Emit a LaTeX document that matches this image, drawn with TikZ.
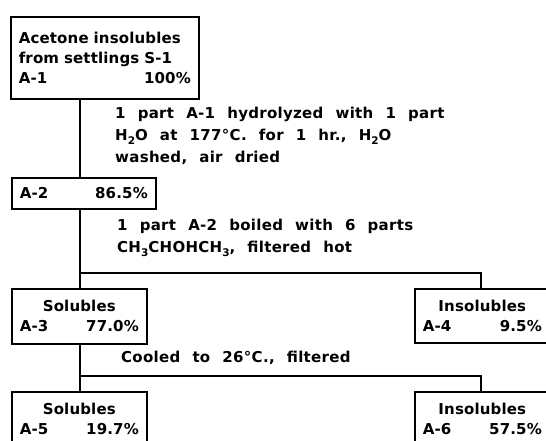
\documentclass[tikz,border=0pt]{standalone}
\usepackage{fontspec}
\setmainfont{DejaVu Sans}[LetterSpace=1,WordSpace=1.8]
\newfontfamily\notefont{DejaVu Sans}[LetterSpace=2,WordSpace=2.2]
\usetikzlibrary{positioning}
\newcommand\chemsub[1]{\raisebox{-0.5ex}{\fontsize{10.5}{10}\selectfont #1}}

\begin{document}
\begin{tikzpicture}[x=1pt, y=-1pt,
  box/.style={draw, line width=1.6pt, anchor=north west, inner xsep=8pt, inner ysep=0pt, align=center, font=\fontsize{15}{20}\selectfont\bfseries},
  note/.style={anchor=north west, inner sep=0pt, align=left, font=\notefont\fontsize{15}{22}\selectfont\bfseries},
  link/.style={line width=1.5pt}
]
  \useasboundingbox (0,0) rectangle (546,440);

  % Starting material
  \node[box, align=left, text width=172pt, minimum height=82pt] (a1) at (10,16) {
    Acetone insolubles\\
    from settlings S-1\\
    A-1\hfill 100\%
  };

  % Hydrolysis
  \node[note] (hydro) at (115,106.6) {
    1 part A-1 hydrolyzed with 1 part\\
    H\chemsub{2}O at 177°C. for 1 hr., H\chemsub{2}O\\
    washed, air dried
  };
  \node[box, text width=128pt, minimum height=31pt] (a2) at (11,177) {A-2\hfill 86.5\%};

  % Hot extraction
  \node[note] (boil) at (117,218.6) {
    1 part A-2 boiled with 6 parts\\
    CH\chemsub{3}CHOHCH\chemsub{3}, filtered hot
  };
  \coordinate (split1) at (80,273);
  \coordinate (split1r) at (481,273);
  \node[box, text width=119pt, minimum height=55pt] (a3) at (11,288) {Solubles\\A-3\hfill 77.0\%};
  \node[box, text width=119pt, minimum height=54pt] (a4) at (414,288) {Insolubles\\A-4\hfill 9.5\%};

  % Cooling
  \node[note] (cool) at (121,350.6) {Cooled to 26°C., filtered};
  \coordinate (split2) at (80,376);
  \coordinate (split2r) at (481,376);
  \node[box, text width=119pt, minimum height=55pt] (a5) at (11,391) {Solubles\\A-5\hfill 19.7\%};
  \node[box, text width=119pt, minimum height=55pt] (a6) at (414,391) {Insolubles\\A-6\hfill 57.5\%};

  \draw[link] (a1.south -| split1) -- (a2.north -| split1);
  \draw[link] (a2.south -| split1) -- (a3.north -| split1);
  \draw[link] (split1) -- (split1r) -- (a4.north -| split1r);
  \draw[link] (a3.south -| split2) -- (a5.north -| split2);
  \draw[link] (split2) -- (split2r) -- (a6.north -| split2r);
\end{tikzpicture}
\end{document}
